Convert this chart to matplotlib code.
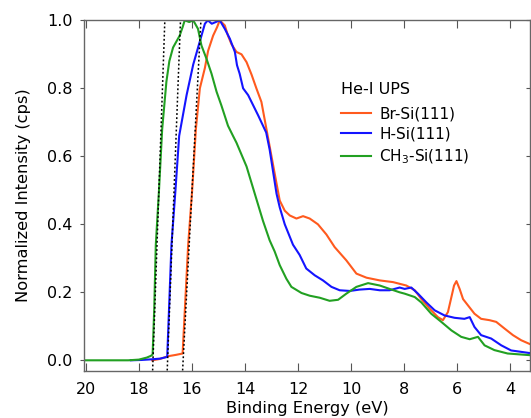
import matplotlib
matplotlib.use('Agg')
import matplotlib.pyplot as plt
from matplotlib.lines import TICKLEFT

plt.rcParams['font.family'] = ['DejaVu Sans']

# binding energy (eV) and normalized intensity
br_e = [17.5, 17.2, 16.9, 16.6, 16.35, 16.14, 15.99, 15.85, 15.7, 15.51, 15.39, 15.2, 15.05, 14.95,
        14.76, 14.64, 14.51, 14.32, 14.13, 13.94, 13.75, 13.57, 13.38, 13.19, 13.0, 12.81, 12.69,
        12.5, 12.31, 12.06, 11.81, 11.56, 11.25, 10.93, 10.62, 10.18, 9.8, 9.42, 8.92, 8.42,
        7.92, 7.6, 7.35, 7.04, 6.73, 6.54, 6.35, 6.22, 6.12, 6.03, 5.91, 5.78, 5.6, 5.35, 5.1,
        4.78, 4.53, 4.21, 3.9, 3.59, 3.24]
br_i = [0.0, 0.004, 0.012, 0.016, 0.02, 0.34, 0.5, 0.68, 0.80, 0.86, 0.91, 0.955, 0.98, 1.0,
        0.985, 0.955, 0.93, 0.907, 0.90, 0.877, 0.84, 0.80, 0.76, 0.68, 0.60, 0.52, 0.47,
        0.44, 0.426, 0.417, 0.424, 0.417, 0.40, 0.37, 0.333, 0.294, 0.255, 0.243, 0.235, 0.23,
        0.22, 0.206, 0.18, 0.152, 0.127, 0.118, 0.142, 0.186, 0.22, 0.233, 0.21, 0.18, 0.162, 0.137, 0.122,
        0.118, 0.113, 0.093, 0.074, 0.059, 0.047]

h_e = [18.3, 17.9, 17.5, 17.2, 16.93, 16.77, 16.62, 16.48, 16.2, 15.95, 15.73, 15.51, 15.4, 15.25,
       15.1, 14.95, 14.76, 14.57, 14.38, 14.3, 14.2, 14.07, 13.88, 13.69, 13.5, 13.32, 13.2,
       13.07, 12.95, 12.81, 12.69, 12.5, 12.19, 11.94, 11.69, 11.37, 11.06, 10.74, 10.43, 10.05,
       9.68, 9.3, 8.92, 8.55, 8.17, 7.98, 7.73, 7.48, 7.16, 6.85, 6.48, 6.1, 5.73, 5.53, 5.35,
       5.1, 4.72, 4.34, 3.97, 3.24]
h_i = [0.0, 0.001, 0.003, 0.005, 0.01, 0.34, 0.5, 0.66, 0.78, 0.87, 0.93, 0.99, 1.0, 0.99,
       0.995, 1.0, 0.975, 0.946, 0.907, 0.868, 0.843, 0.80, 0.78, 0.75, 0.72, 0.69, 0.67,
       0.62, 0.56, 0.49, 0.45, 0.40, 0.34, 0.31, 0.27, 0.25, 0.235, 0.216, 0.206, 0.204,
       0.208, 0.21, 0.206, 0.206, 0.214, 0.21, 0.214, 0.196, 0.17, 0.147, 0.132, 0.125, 0.122, 0.127, 0.098,
       0.074, 0.064, 0.044, 0.029, 0.021]

ch3_e = [20.0, 18.4, 18.0, 17.7, 17.55, 17.48, 17.42, 17.36, 17.24, 17.12, 16.96, 16.85, 16.71,
         16.46, 16.35, 16.27, 16.1, 15.95, 15.77, 15.64, 15.45, 15.26, 15.07, 14.89, 14.64,
         14.45, 14.32, 13.94, 13.63, 13.32, 13.07, 12.88, 12.69, 12.44, 12.25, 11.87, 11.56,
         11.18, 10.81, 10.49, 10.18, 9.8, 9.36, 8.92, 8.55, 8.17, 7.98, 7.6, 7.35, 6.98, 6.6,
         6.22, 5.85, 5.53, 5.22, 4.97, 4.6, 4.1, 3.24]
ch3_i = [0.0, 0.0, 0.002, 0.008, 0.013, 0.017, 0.15, 0.34, 0.5, 0.68, 0.82, 0.88, 0.92,
         0.955, 0.98, 1.0, 0.995, 1.0, 0.975, 0.926, 0.887, 0.843, 0.79, 0.75, 0.69,
         0.66, 0.64, 0.57, 0.49, 0.41, 0.353, 0.32, 0.28, 0.24, 0.216, 0.198, 0.19,
         0.184, 0.175, 0.178, 0.196, 0.216, 0.227, 0.22, 0.21, 0.20, 0.196, 0.186, 0.17, 0.137, 0.113,
         0.088, 0.069, 0.062, 0.069, 0.044, 0.03, 0.02, 0.015]

# linear onset fits: energy at I = -0.03 and at I = 1.0
fit_bottom = [16.35, 16.93, 17.48]
fit_top = [15.66, 16.43, 17.02]

labels = ['Br-Si(111)', 'H-Si(111)', 'CH$_3$-Si(111)']
colors = ['#ff5a1e', '#1414ff', '#22a022']

fig = plt.figure(figsize=(5.31, 4.18), dpi=100)
ax = fig.add_axes([0.158, 0.112, 0.841, 0.841])

for e, i, c, lab in zip([br_e, h_e, ch3_e], [br_i, h_i, ch3_i], colors, labels):
    ax.plot(e, i, color=c, lw=1.5, label=lab)

for b, t in zip(fit_bottom, fit_top):
    ax.plot([b, t], [-0.03, 1.0], color='black', lw=1.1, ls=(0, (1.2, 1.5)))

ax.set_xlim(20.07, 3.24)
ax.set_ylim(-0.032, 1.002)
ax.set_xticks(range(20, 3, -2))
ax.set_yticks([0.0, 0.2, 0.4, 0.6, 0.8, 1.0])
ax.set_yticklabels(['0.0', '0.2', '0.4', '0.6', '0.8', '1.0'])

for s in ax.spines.values():
    s.set_color('#666666')
    s.set_linewidth(1.0)
ax.tick_params(axis='x', direction='in', length=6, top=True, color='#555555', labelsize=11.5, pad=7.5)
ax.tick_params(axis='y', direction='out', length=3, right=True, color='#555555', labelsize=11.5, pad=5)
for t in ax.yaxis.get_major_ticks():
    t.tick2line.set_marker(TICKLEFT)

ax.set_xlabel('Binding Energy (eV)', fontsize=11.7, labelpad=3)
ax.set_ylabel('Normalized Intensity (cps)', fontsize=11.7, labelpad=12)

fig.text(0.642, 0.785, 'He-I UPS', fontsize=11.5, ha='left', va='center')
ax.legend(loc='center left', bbox_to_anchor=(0.642, 0.6746), bbox_transform=fig.transFigure,
          frameon=False, fontsize=11, handlelength=2.0, handletextpad=0.5,
          labelspacing=0.35, borderpad=0, borderaxespad=0)

fig.savefig('out.png', dpi=100)
